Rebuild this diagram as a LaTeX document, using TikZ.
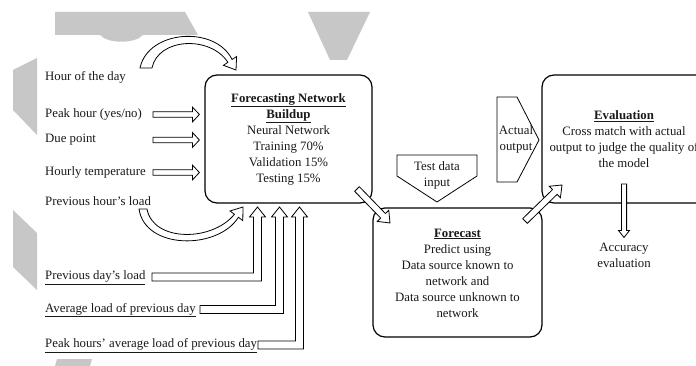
\documentclass[tikz,border=0pt]{standalone}
\usepackage{fontspec}
\setmainfont{Liberation Serif}
\usetikzlibrary{calc}
\newcommand\barrow[5]{%
  \path let \p1=(#1), \p2=(#2) in \pgfextra{%
    \pgfmathsetmacro\baTmpA{atan2((\y2)-(\y1),(\x2)-(\x1))}%
    \pgfmathsetmacro\baTmpL{veclen((\x2)-(\x1),(\y2)-(\y1))}%
    \xdef\baAng{\baTmpA}\xdef\baLen{\baTmpL}%
    \xdef\baX{\x1}\xdef\baY{\y1}};
  \draw[blockarrow, shift={(\baX,\baY)}, rotate=\baAng]
    (0pt,-#3) -- ({\baLen pt-#5},-#3) -- ({\baLen pt-#5},-#4) -- (\baLen pt,0pt)
    -- ({\baLen pt-#5},#4) -- ({\baLen pt-#5},#3) -- (0pt,#3) -- cycle;
}
\begin{document}
\begin{tikzpicture}[x=1pt,y=-1pt,
  every node/.style={font=\fontsize{12.8}{16}\selectfont, inner sep=0pt, text=black!90},
  box/.style={draw, line width=1.2pt, rounded corners=12pt},
  blockarrow/.style={draw, line width=0.8pt, fill=white, line join=miter},
  wm/.style={fill=black!22, draw=none},
  lbl/.style={anchor=west, text height=1.5ex, text depth=.25ex, align=left}]
\useasboundingbox (0,0) rectangle (696,366);
\clip (0,0) rectangle (696,366);
\fill[white] (0,0) rectangle (696,366);

% watermark
\path[wm] (55,12) -- (185,12) -- (198,35) -- (143,35) .. controls (135,44) and (108,44) .. (100,35) -- (55,35) -- cycle;
\path[wm] (308,12) -- (370,12) -- (347,60) -- (330,60) -- cycle;
\path[wm] (13,70) -- (37,58) -- (37,135) -- (13,110) -- cycle;
\path[wm] (13,210) -- (37,233) -- (37,290) -- (13,267) -- cycle;
\path[wm] (57,359) -- (92,359) -- (90,366) -- (55,366) -- cycle;

% boxes
\node[box, minimum width=167pt, minimum height=128pt, align=center] (build) at (288.5,139)
  {\underline{\textbf{Forecasting Network}}\\ \underline{\textbf{Buildup}}\\ Neural Network\\ Training 70\%\\ Validation 15\%\\ Testing 15\%};
\node[box, minimum width=169pt, minimum height=129pt] (fc) at (457.5,272.5) {};
\node[align=center] (fctext) at (457.5,273)
  {\underline{\textbf{Forecast}}\\Predict using\\Data source known to\\network and\\Data source unknown to\\network};
\node[box, minimum width=190pt, minimum height=128pt] (ev) at (637,139) {};
\node[align=center] (evtext) at (624,139)
  {\underline{\textbf{Evaluation}}\\Cross match with actual\\output to judge the quality of\\the model};

% left labels
\node[lbl] (hour) at (45,77.5) {Hour of the day};
\node[lbl] (peak) at (45,114.5) {Peak hour (yes/no)};
\node[lbl] (due) at (45,140) {Due point};
\node[lbl] (temp) at (45,172.5) {Hourly temperature};
\node[lbl] (prevh) at (45,202.5) {Previous hour's load};
\node[lbl] (prevd) at (45,277) {\underline{Previous day's load}};
\node[lbl] (avgd) at (45,309.5) {\underline{Average load of previous day}};
\node[lbl] (peakd) at (45,345) {\underline{Peak hours' average load of previous day}};

% pentagons
\draw[line width=0.8pt] (397,155) -- (477,155) -- (477,176) -- (437,202) -- (397,176) -- cycle;
\node[align=center] (test) at (437,175) {Test data\\input};
\draw[line width=0.8pt] (497,97) -- (517,97) -- (539,140) -- (517,182) -- (497,182) -- cycle;
\node[align=center] (actual) at (516,139.5) {Actual\\output};

\node[align=center] (acc) at (624,255) {Accuracy\\evaluation};

% straight input arrows
\coordinate (pkS) at (153,114.5);
\coordinate (pkE) at ($(build.west |- pkS)+(-5,0)$);
\coordinate (dpS) at (153,140);
\coordinate (dpE) at ($(build.west |- dpS)+(-5,0)$);
\coordinate (htS) at (153,172.5);
\coordinate (htE) at ($(build.west |- htS)+(-5,0)$);
\barrow{pkS}{pkE}{2.8pt}{7.5pt}{7pt}
\barrow{dpS}{dpE}{2.8pt}{7.5pt}{7pt}
\barrow{htS}{htE}{2.8pt}{7.5pt}{7pt}

% diagonal arrows
\coordinate (d1S) at (357,189);
\coordinate (d1E) at (390,223);
\coordinate (d2S) at (525,221);
\coordinate (d2E) at (562,185);
\barrow{d1S}{d1E}{3.3pt}{8pt}{10pt}
\barrow{d2S}{d2E}{3.3pt}{8pt}{10pt}
\coordinate (aS) at (624,184);
\coordinate (aE) at ($(acc.north)+(0,-5)$);
\barrow{aS}{aE}{2.6pt}{5.5pt}{7pt}

% curved arrows
\draw[blockarrow] (140,68) -- (152,68) .. controls (158,38) and (210,35) .. (227.9,62.3)
  -- (223.4,65.3) -- (236,70) -- (236.6,56.5) -- (232.1,59.5)
  .. controls (215,25) and (148,30) .. (140,68) -- cycle;
\draw[blockarrow] (139,209) -- (147,209) .. controls (153,242) and (212,242) .. (234.4,214.3)
  -- (230,211) -- (243,207) -- (242.8,220.6) -- (238.4,217.3)
  .. controls (218,250) and (145,250) .. (139,209) -- cycle;

% L-shaped arrows
\draw[blockarrow] (152,273) -- (253.5,273) -- (253.5,217) -- (249.5,217) -- (257.5,207)
  -- (265.5,217) -- (261.5,217) -- (261.5,281) -- (152,281) -- cycle;
\draw[blockarrow] (200,305.5) -- (275.5,305.5) -- (275.5,217) -- (271.5,217) -- (279.5,207)
  -- (287.5,217) -- (283.5,217) -- (283.5,313.5) -- (200,313.5) -- cycle;
\draw[blockarrow] (258,341) -- (295.5,341) -- (295.5,217) -- (291.5,217) -- (299.5,207)
  -- (307.5,217) -- (303.5,217) -- (303.5,349) -- (258,349) -- cycle;
\end{tikzpicture}
\end{document}
